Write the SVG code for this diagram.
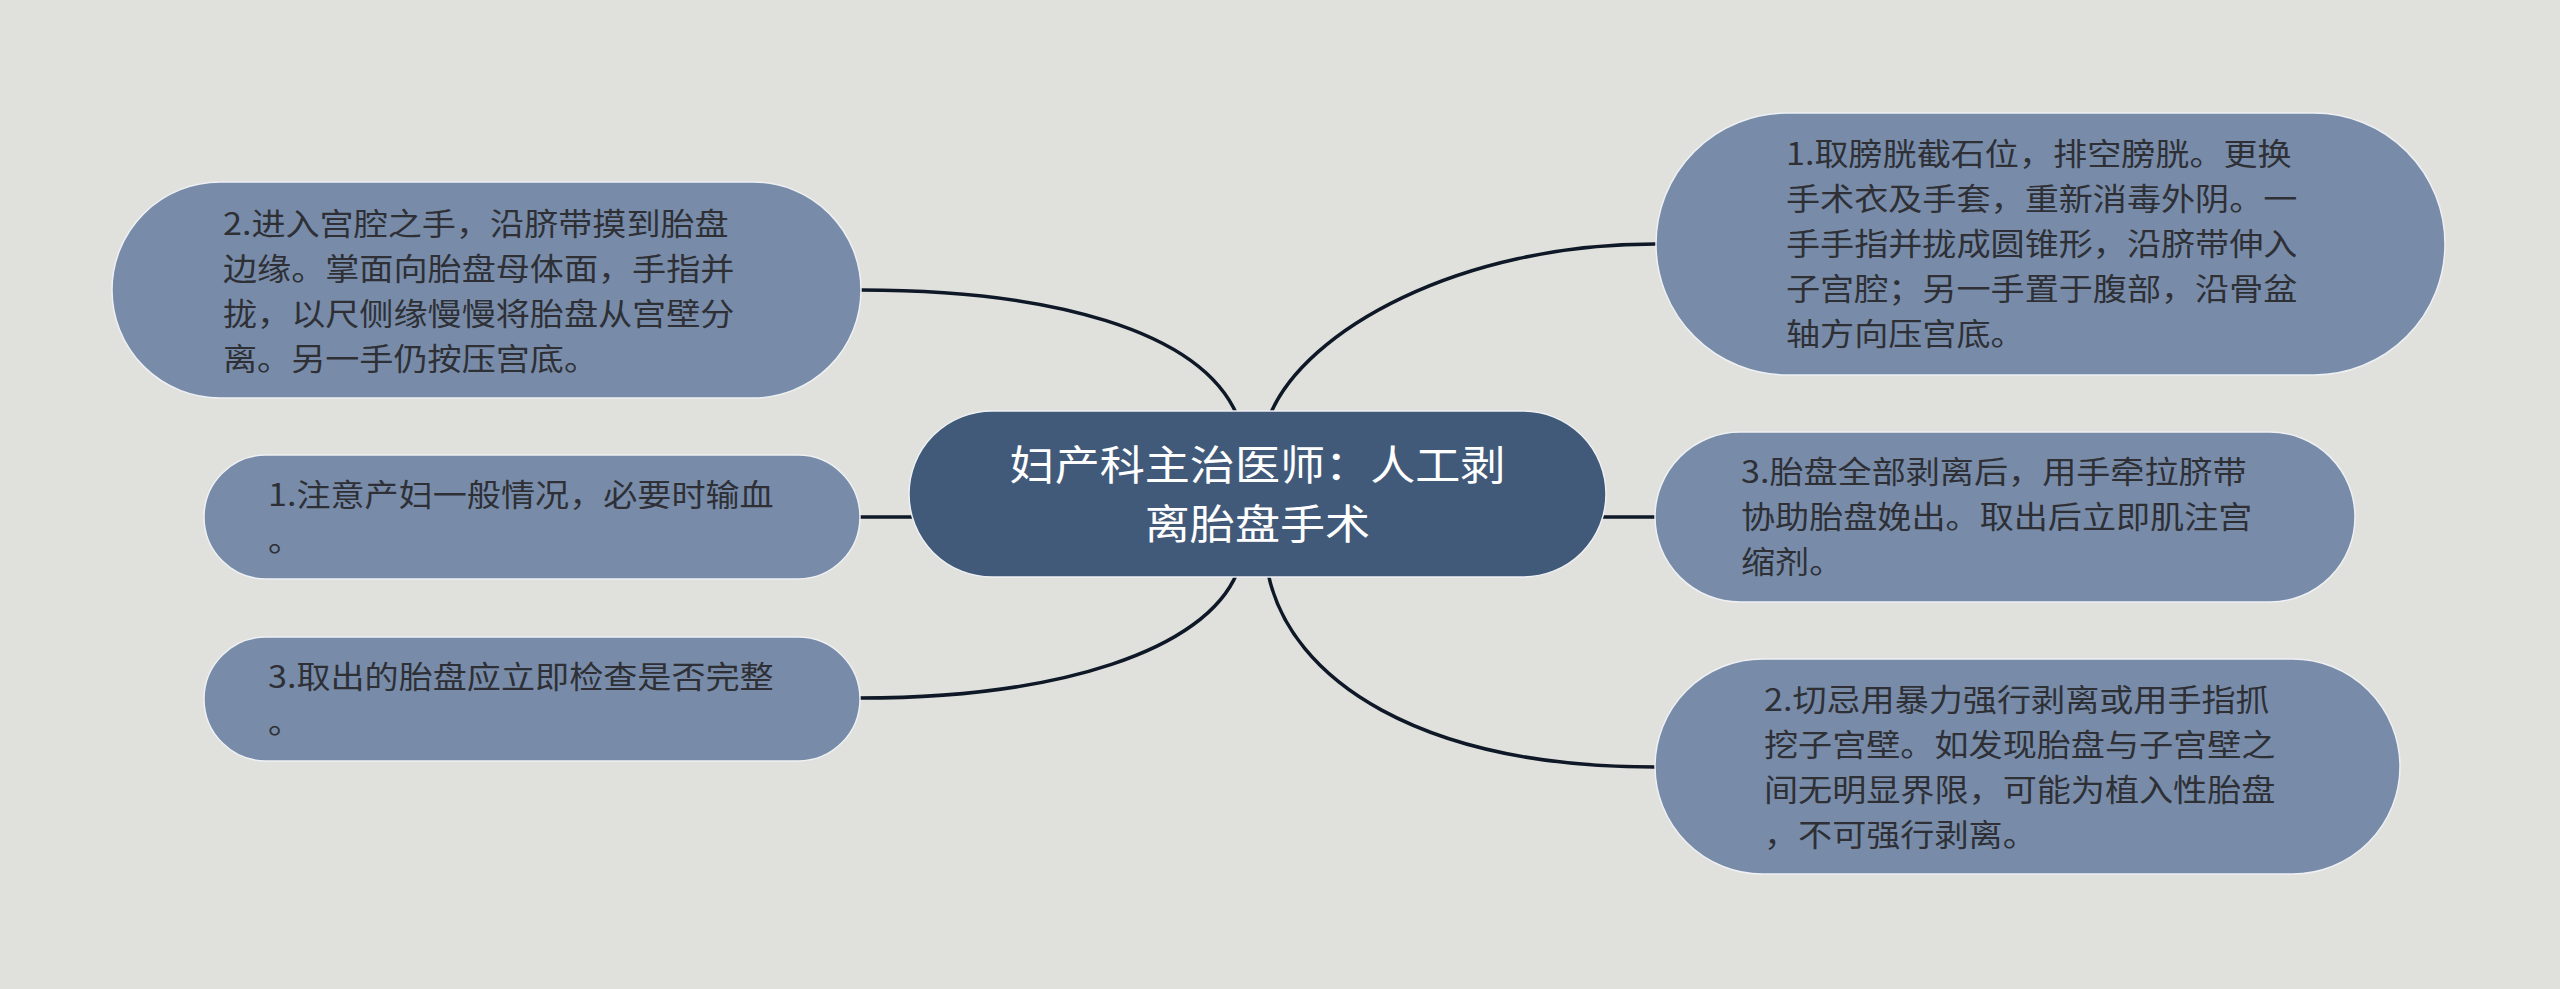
<svg xmlns="http://www.w3.org/2000/svg" width="2560" height="989" viewBox="0 0 2560 989">
<style>
.bg{fill:#e0e0dc}
.node{fill:#788ca9;stroke:#eef0f3;stroke-width:1.5}
.root{fill:#415a79;stroke:#eef0f3;stroke-width:1.5}
.t{font-family:"Noto Sans CJK SC","Noto Sans",sans-serif;font-size:31px;fill:#2e3036}
.rt{font-family:"Noto Sans CJK SC","Noto Sans",sans-serif;font-size:41px;fill:#ffffff;text-anchor:middle}
.c{fill:none;stroke:#0e1827;stroke-width:3.5;stroke-linecap:round}
</style>
<rect class="bg" x="0" y="0" width="2560" height="989"/>
<g id="connectors">
<path class="c" d="M1237,415 C1200,330 1050,290 861,290"/>
<path class="c" d="M1270,415 C1305,330 1460,244 1655,244"/>
<path class="c" d="M1237,573 C1205,650 1060,698 860,698"/>
<path class="c" d="M1268,573 C1290,680 1420,767 1655,767"/>
<path class="c" d="M858,517 L912,517"/>
<path class="c" d="M1603,517 L1657,517"/>
</g>
<g id="root">
<rect class="root" x="909" y="411" width="697" height="166" rx="83" ry="83"/>
<g transform="translate(1257.5,0) scale(1.1,1)">
<text class="rt" x="0" y="480">妇产科主治医师：人工剥</text>
<text class="rt" x="0" y="539">离胎盘手术</text>
</g>
</g>
<g id="left1">
<rect class="node" x="112" y="182" width="749" height="216" rx="108" ry="108"/>
<g transform="translate(223,0) scale(1.1,1)">
<text class="t" x="0" y="235">2.进入宫腔之手，沿脐带摸到胎盘</text>
<text class="t" x="0" y="280">边缘。掌面向胎盘母体面，手指并</text>
<text class="t" x="0" y="325">拢，以尺侧缘慢慢将胎盘从宫壁分</text>
<text class="t" x="0" y="370">离。另一手仍按压宫底。</text>
</g>
</g>
<g id="left2">
<rect class="node" x="204" y="455" width="656" height="124" rx="62" ry="62"/>
<g transform="translate(268,0) scale(1.1,1)">
<text class="t" x="0" y="506">1.注意产妇一般情况，必要时输血</text>
<text class="t" x="0" y="551">。</text>
</g>
</g>
<g id="left3">
<rect class="node" x="204" y="637" width="656" height="124" rx="62" ry="62"/>
<g transform="translate(268,0) scale(1.1,1)">
<text class="t" x="0" y="688">3.取出的胎盘应立即检查是否完整</text>
<text class="t" x="0" y="733">。</text>
</g>
</g>
<g id="right1">
<rect class="node" x="1656" y="113" width="789" height="262" rx="131" ry="131"/>
<g transform="translate(1786,0) scale(1.1,1)">
<text class="t" x="0" y="165">1.取膀胱截石位，排空膀胱。更换</text>
<text class="t" x="0" y="210">手术衣及手套，重新消毒外阴。一</text>
<text class="t" x="0" y="255">手手指并拢成圆锥形，沿脐带伸入</text>
<text class="t" x="0" y="300">子宫腔；另一手置于腹部，沿骨盆</text>
<text class="t" x="0" y="345">轴方向压宫底。</text>
</g>
</g>
<g id="right2">
<rect class="node" x="1655" y="432" width="700" height="170" rx="85" ry="85"/>
<g transform="translate(1741,0) scale(1.1,1)">
<text class="t" x="0" y="483">3.胎盘全部剥离后，用手牵拉脐带</text>
<text class="t" x="0" y="528">协助胎盘娩出。取出后立即肌注宫</text>
<text class="t" x="0" y="573">缩剂。</text>
</g>
</g>
<g id="right3">
<rect class="node" x="1655" y="659" width="745" height="215" rx="107.5" ry="107.5"/>
<g transform="translate(1764,0) scale(1.1,1)">
<text class="t" x="0" y="711">2.切忌用暴力强行剥离或用手指抓</text>
<text class="t" x="0" y="756">挖子宫壁。如发现胎盘与子宫壁之</text>
<text class="t" x="0" y="801">间无明显界限，可能为植入性胎盘</text>
<text class="t" x="0" y="846">，不可强行剥离。</text>
</g>
</g>
</svg>
